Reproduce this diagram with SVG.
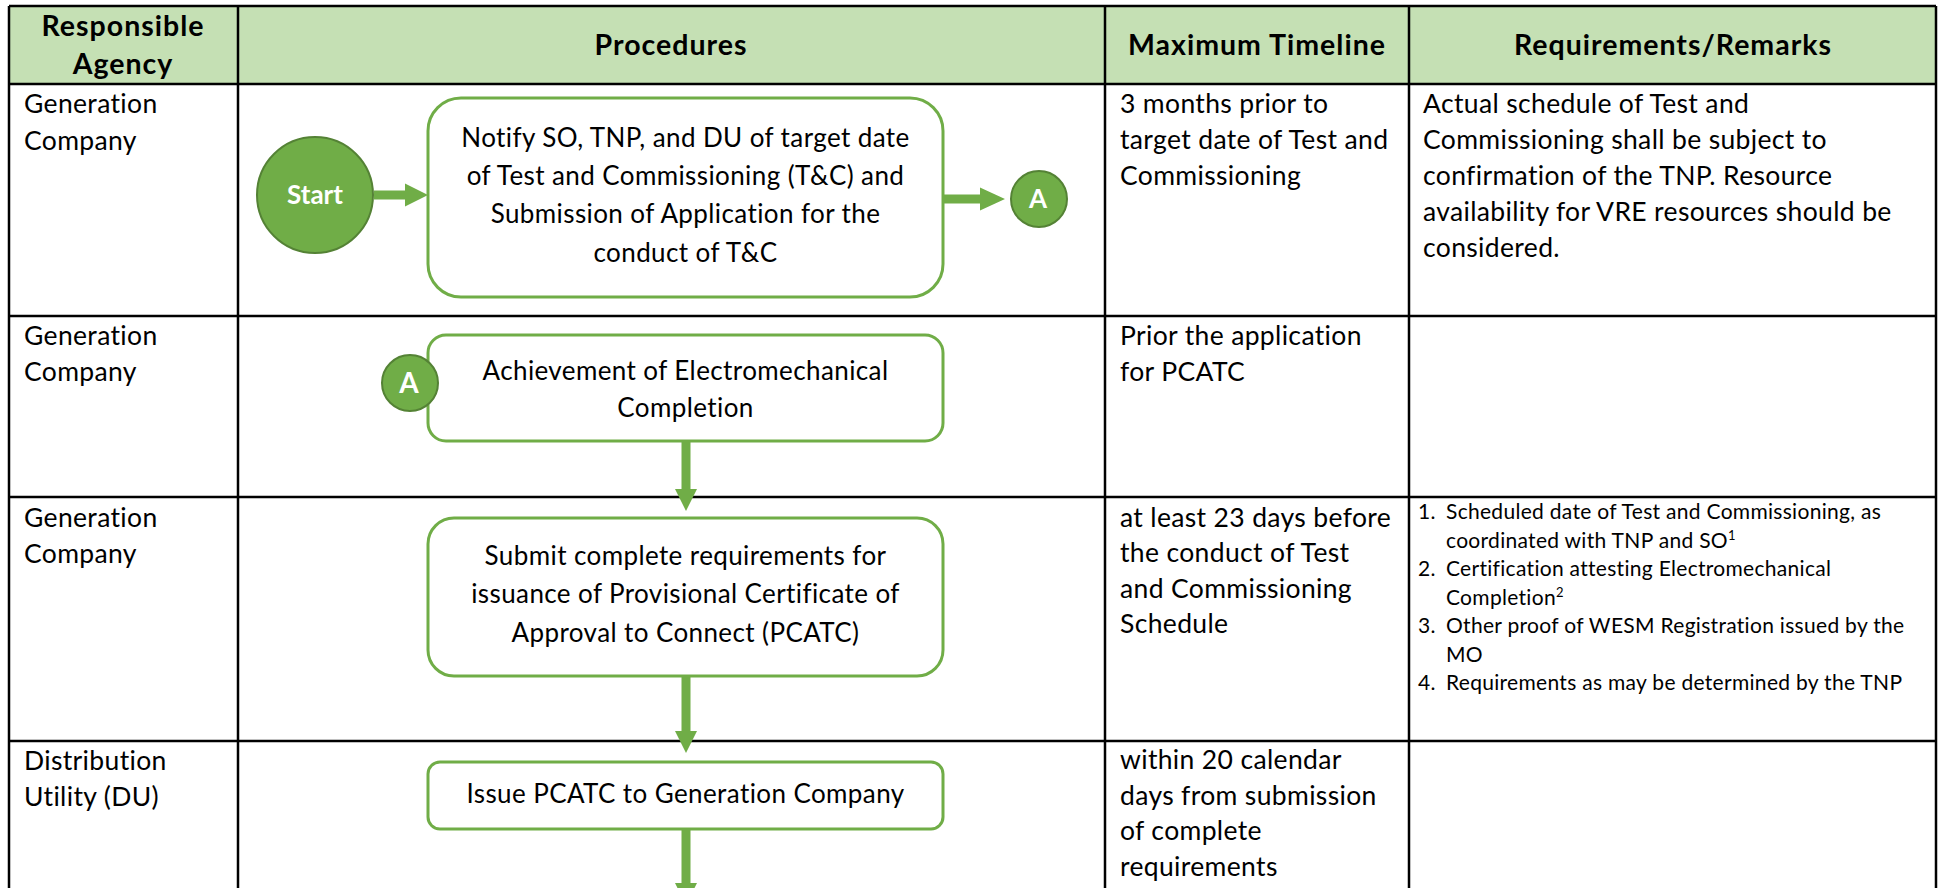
<svg xmlns="http://www.w3.org/2000/svg" width="1941" height="888" viewBox="0 0 1941 888">
<style>
  text { font-family: "Lato", "Carlito", "Liberation Sans", sans-serif; fill: #000; }
  .hd { font-size: 28.5px; font-weight: bold; text-anchor: middle; letter-spacing: 1px; }
  .t { font-size: 26.5px; letter-spacing: 0.35px; }
  .bx { font-size: 26px; text-anchor: middle; letter-spacing: 0.4px; }
  .li { font-size: 21px; letter-spacing: 0.3px; }
  .sup { font-size: 13px; }
  .node { fill: #fff; stroke: #70AD47; stroke-width: 3; }
  .circ { fill: #70AD47; stroke: #548235; stroke-width: 2; }
  .wt { fill: #fff; font-weight: bold; text-anchor: middle; }
  .grid { stroke: #000; stroke-width: 2.5; fill: none; }
  .arrow { fill: #70AD47; }
</style>

<g id="table">
  <rect x="9" y="6" width="1927" height="78" fill="#C5E0B4"/>
  <path class="grid" d="M9,6 H1936 M9,84 H1936 M9,316 H1936 M9,497 H1936 M9,741 H1936 M9,6 V888 M238,6 V888 M1105,6 V888 M1409,6 V888 M1936,6 V888"/>
  <text class="hd" x="123" y="36">Responsible</text>
  <text class="hd" x="123" y="74">Agency</text>
  <text class="hd" x="671" y="55">Procedures</text>
  <text class="hd" x="1257" y="55">Maximum Timeline</text>
  <text class="hd" x="1673" y="55">Requirements/Remarks</text>
</g>

<g id="agency-col">
  <text class="t" x="24" y="113">Generation</text>
  <text class="t" x="24" y="150">Company</text>
  <text class="t" x="24" y="345">Generation</text>
  <text class="t" x="24" y="381">Company</text>
  <text class="t" x="24" y="527">Generation</text>
  <text class="t" x="24" y="563">Company</text>
  <text class="t" x="24" y="770">Distribution</text>
  <text class="t" x="24" y="806">Utility (DU)</text>
</g>

<g id="timeline-col">
  <text class="t" x="1120" y="113">3 months prior to</text>
  <text class="t" x="1120" y="149">target date of Test and</text>
  <text class="t" x="1120" y="185">Commissioning</text>
  <text class="t" x="1120" y="345">Prior the application</text>
  <text class="t" x="1120" y="381">for PCATC</text>
  <text class="t" x="1120" y="527">at least 23 days before</text>
  <text class="t" x="1120" y="562">the conduct of Test</text>
  <text class="t" x="1120" y="598">and Commissioning</text>
  <text class="t" x="1120" y="633">Schedule</text>
  <text class="t" x="1120" y="769">within 20 calendar</text>
  <text class="t" x="1120" y="805">days from submission</text>
  <text class="t" x="1120" y="840">of complete</text>
  <text class="t" x="1120" y="876">requirements</text>
</g>

<g id="remarks-col">
  <text class="t" x="1423" y="113">Actual schedule of Test and</text>
  <text class="t" x="1423" y="149">Commissioning shall be subject to</text>
  <text class="t" x="1423" y="185">confirmation of the TNP. Resource</text>
  <text class="t" x="1423" y="221">availability for VRE resources should be</text>
  <text class="t" x="1423" y="257">considered.</text>
  <text class="li" x="1418" y="519">1.</text>
  <text class="li" x="1446" y="519">Scheduled date of Test and Commissioning, as</text>
  <text class="li" x="1446" y="547.5">coordinated with TNP and SO<tspan class="sup" dy="-8">1</tspan></text>
  <text class="li" x="1418" y="576">2.</text>
  <text class="li" x="1446" y="576">Certification attesting Electromechanical</text>
  <text class="li" x="1446" y="604.5">Completion<tspan class="sup" dy="-8">2</tspan></text>
  <text class="li" x="1418" y="633">3.</text>
  <text class="li" x="1446" y="633">Other proof of WESM Registration issued by the</text>
  <text class="li" x="1446" y="661.5">MO</text>
  <text class="li" x="1418" y="690">4.</text>
  <text class="li" x="1446" y="690">Requirements as may be determined by the TNP</text>
</g>

<g id="connectors">
  <path class="arrow" d="M374,190.5 H405 V183.5 L428,195 L405,206.5 V199.5 H374 Z"/>
  <path class="arrow" d="M943,194.5 H980 V187.5 L1005,199 L980,210.5 V203.5 H943 Z"/>
  <path class="arrow" d="M681.5,441 V489 H675 L686,511 L697,489 H690.5 V441 Z"/>
  <path class="arrow" d="M681.5,676 V731 H675 L686,753 L697,731 H690.5 V676 Z"/>
  <path class="arrow" d="M681.5,829 V883 H675 L686,905 L697,883 H690.5 V829 Z"/>
</g>

<g id="start">
  <circle class="circ" cx="315" cy="195" r="58"/>
  <text class="wt" x="315" y="204" font-size="26">Start</text>
</g>

<g id="notify">
  <rect class="node" x="428" y="98" width="515" height="199" rx="33" ry="33"/>
  <text class="bx" x="685.5" y="147">Notify SO, TNP, and DU of target date</text>
  <text class="bx" x="685.5" y="185">of Test and Commissioning (T&amp;C) and</text>
  <text class="bx" x="685.5" y="223">Submission of Application for the</text>
  <text class="bx" x="685.5" y="262">conduct of T&amp;C</text>
</g>

<g id="connectorA1">
  <circle class="circ" cx="1039" cy="199" r="28"/>
  <text class="wt" x="1038" y="208" font-size="26">A</text>
</g>

<g id="electromechanical">
  <rect class="node" x="428" y="335" width="515" height="106" rx="18" ry="18"/>
  <text class="bx" x="685.5" y="380">Achievement of Electromechanical</text>
  <text class="bx" x="685.5" y="417">Completion</text>
</g>

<g id="connectorA2">
  <circle class="circ" cx="410" cy="383" r="28"/>
  <text class="wt" x="409" y="393" font-size="28">A</text>
</g>

<g id="submit">
  <rect class="node" x="428" y="518" width="515" height="158" rx="26" ry="26"/>
  <text class="bx" x="685.5" y="565">Submit complete requirements for</text>
  <text class="bx" x="685.5" y="603">issuance of Provisional Certificate of</text>
  <text class="bx" x="685.5" y="642">Approval to Connect (PCATC)</text>
</g>

<g id="issue">
  <rect class="node" x="428" y="762" width="515" height="67" rx="12" ry="12"/>
  <text class="bx" x="685.5" y="803">Issue PCATC to Generation Company</text>
</g>
</svg>
